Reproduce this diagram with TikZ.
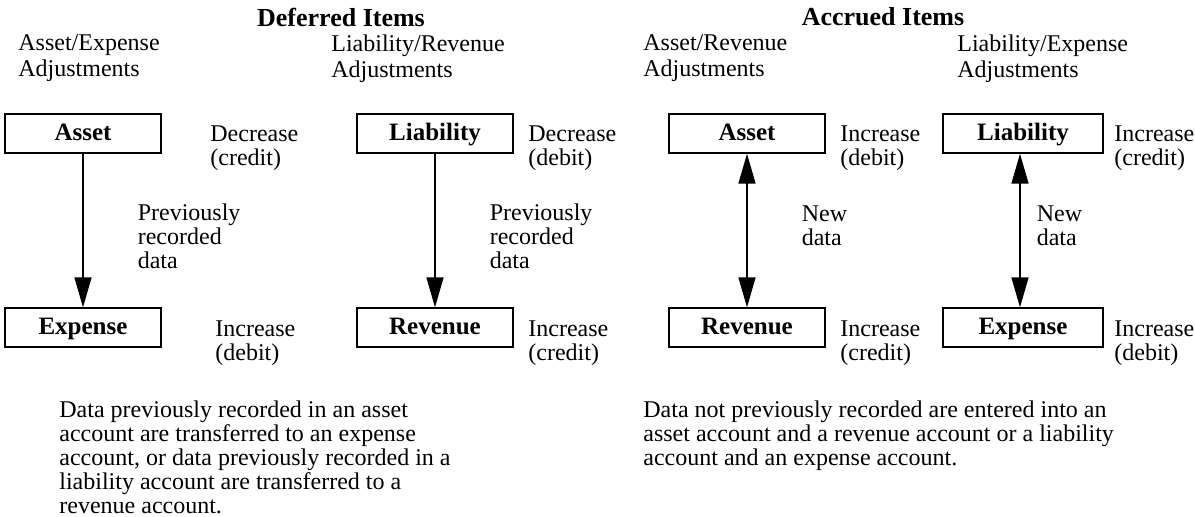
\documentclass[tikz,border=0pt]{standalone}
\usepackage{fontspec}
\setmainfont{Liberation Serif}
\usetikzlibrary{arrows.meta}
\usetikzlibrary{positioning}

\begin{document}
\begin{tikzpicture}[x=0.5pt,y=-0.5pt,node distance=97pt,on grid,
   acct/.style={draw,line width=0.7pt,minimum width=78pt,minimum height=19.5pt,inner sep=0pt,text height=9pt,text depth=2.5pt,font=\fontsize{12.5}{14}\selectfont\bfseries},
   txt/.style={anchor=north west,inner sep=0pt,align=left,font=\fontsize{12}{12}\selectfont},
   ttl/.style={inner sep=0pt,font=\fontsize{13}{15}\selectfont\bfseries},
   flow/.style={line width=0.8pt,-{Triangle[length=15pt,width=8.5pt]}},
   both/.style={line width=0.8pt,{Triangle[length=15pt,width=8.5pt]}-{Triangle[length=15pt,width=8.5pt]}}]
   \useasboundingbox (0,0) rectangle (1195,516);
   % titles and headings
   \node[ttl] (t_1) at (341,17) {Deferred Items};
   \node[ttl] (t_2) at (883,17) {Accrued Items};
   \node[txt,font=\fontsize{12}{13}\selectfont] (h_1) at (18,34) {Asset/Expense\\Adjustments};
   \node[txt,font=\fontsize{12}{13}\selectfont] (h_2) at (331,34) {Liability/Revenue\\Adjustments};
   \node[txt,font=\fontsize{12}{13}\selectfont] (h_3) at (643,34) {Asset/Revenue\\Adjustments};
   \node[txt,font=\fontsize{12}{13}\selectfont] (h_4) at (957,34) {Liability/Expense\\Adjustments};
   % accounts
   \node[acct] (a_1) at (83,133.5) {Asset};
   \node[acct] (e_1) [below=of a_1] {Expense};
   \node[acct] (l_1) at (435,133.5) {Liability};
   \node[acct] (r_1) [below=of l_1] {Revenue};
   \node[acct] (a_2) at (747,133.5) {Asset};
   \node[acct] (r_2) [below=of a_2] {Revenue};
   \node[acct,minimum width=80pt] (l_2) at (1023,133.5) {Liability};
   \node[acct,minimum width=80pt] (e_2) [below=of l_2] {Expense};
   % side notes
   \node[txt] (s_1) at (210,125) {Decrease\\(credit)};
   \node[txt] (s_2) at (528,125) {Decrease\\(debit)};
   \node[txt] (s_3) at (840,125) {Increase\\(debit)};
   \node[txt] (s_4) at (1114,125) {Increase\\(credit)};
   \node[txt] (s_5) at (215,320) {Increase\\(debit)};
   \node[txt] (s_6) at (528,320) {Increase\\(credit)};
   \node[txt] (s_7) at (840,320) {Increase\\(credit)};
   \node[txt] (s_8) at (1114,320) {Increase\\(debit)};
    \path[flow]
    (a_1) edge node[txt,anchor=west,xshift=27pt,yshift=-3pt] {Previously\\recorded\\data} (e_1)
    (l_1) edge node[txt,anchor=west,xshift=27pt,yshift=-3pt] {Previously\\recorded\\data} (r_1);
    \path[both]
    (a_2) edge node[txt,anchor=west,xshift=27pt,yshift=2.5pt] {New\\data} (r_2)
    ([xshift=-1.5pt]l_2.south) edge node[txt,anchor=west,xshift=8pt,yshift=2.5pt] {New\\data} ([xshift=-1.5pt]e_2.north);
   % explanations
   \node[txt] (n_1) at (59,400) {Data previously recorded in an asset\\account are transferred to an expense\\account, or data previously recorded in a\\liability account are transferred to a\\revenue account.};
   \node[txt] (n_2) at (643,400) {Data not previously recorded are entered into an\\asset account and a revenue account or a liability\\account and an expense account.};
\end{tikzpicture}
\end{document}
